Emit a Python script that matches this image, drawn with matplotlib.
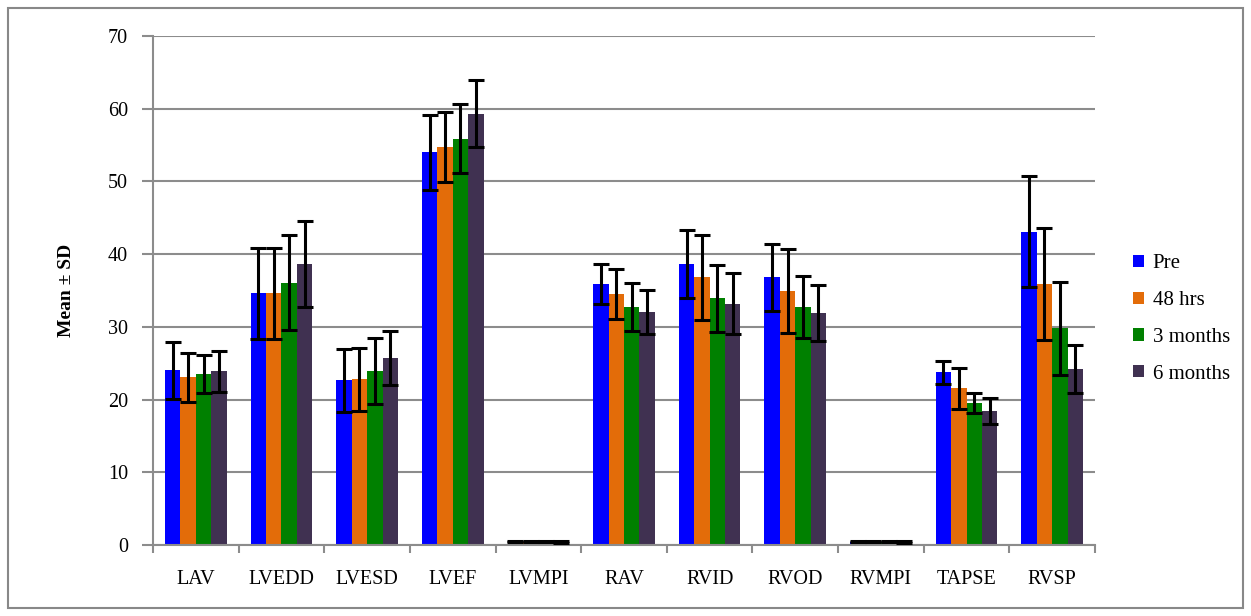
import numpy as np
import matplotlib.pyplot as plt

categories = ['LAV', 'LVEDD', 'LVESD', 'LVEF', 'LVMPI', 'RAV', 'RVID', 'RVOD', 'RVMPI', 'TAPSE', 'RVSP']
series = ['Pre', '48 hrs', '3 months', '6 months']

pre_mean = [24.0, 34.6, 22.65, 54.0, 0.45, 35.85, 38.6, 36.8, 0.45, 23.75, 43.1]
h48_mean = [23.05, 34.6, 22.8, 54.7, 0.45, 34.5, 36.8, 34.9, 0.45, 21.55, 35.85]
m3_mean = [23.5, 36.1, 23.9, 55.9, 0.43, 32.7, 33.9, 32.7, 0.43, 19.5, 29.8]
m6_mean = [23.9, 38.6, 25.7, 59.3, 0.42, 32.0, 33.2, 31.9, 0.42, 18.4, 24.15]

pre_sd = [3.9, 6.3, 4.35, 5.15, 0.08, 2.75, 4.7, 4.6, 0.08, 1.6, 7.6]
h48_sd = [3.35, 6.3, 4.35, 4.8, 0.08, 3.4, 5.85, 5.8, 0.08, 2.8, 7.7]
m3_sd = [2.6, 6.6, 4.5, 4.7, 0.08, 3.3, 4.65, 4.25, 0.08, 1.4, 6.4]
m6_sd = [2.8, 5.9, 3.75, 4.6, 0.08, 3.05, 4.15, 3.8, 0.08, 1.75, 3.3]

colors = ['#0000FF', '#E36C09', '#008000', '#403151']

plt.rcParams['font.family'] = ['Liberation Serif', 'DejaVu Serif']

fig = plt.figure(figsize=(12.51, 6.16), dpi=100)
ax = fig.add_axes([153 / 1251, 1 - 545 / 616, (1095 - 153) / 1251, (545 - 36) / 616])

# outer border of the chart
fig.patches.append(plt.Rectangle((8 / 1251, 8 / 616), 1235 / 1251, 600 / 616,
                                 transform=fig.transFigure, fill=False,
                                 edgecolor='#888888', linewidth=1.5))

x = np.arange(len(categories))
w = 0.18
means = [pre_mean, h48_mean, m3_mean, m6_mean]
sds = [pre_sd, h48_sd, m3_sd, m6_sd]
for i in range(4):
    ax.bar(x + (i - 1.5) * w, means[i], w, color=colors[i], label=series[i], zorder=2,
           yerr=sds[i], error_kw=dict(ecolor='black', elinewidth=2.2, capsize=5.5, capthick=2.2, zorder=3))

ax.set_xlim(-0.5, len(categories) - 0.5)
ax.set_ylim(0, 70)
ax.set_yticks(range(0, 71, 10))
ax.yaxis.grid(True, color='#8c8c8c', linewidth=1.5, zorder=0)
ax.set_axisbelow(True)

ax.set_xticks(x)
ax.set_xticklabels(categories, fontsize=14.5)
ax.set_xticks(np.arange(-0.5, len(categories), 1), minor=True)
ax.tick_params(axis='x', which='major', length=0, pad=18)
ax.tick_params(axis='x', which='minor', length=6, width=1.5, color='#8c8c8c')
ax.tick_params(axis='y', length=8, width=1.5, color='#8c8c8c', labelsize=14.5, pad=10)

for s in ['top', 'right']:
    ax.spines[s].set_visible(False)
for s in ['left', 'bottom']:
    ax.spines[s].set_color('#8c8c8c')
    ax.spines[s].set_linewidth(1.5)

ax.set_ylabel('Mean ± SD', fontsize=14, fontweight='bold', labelpad=24)

fig.legend(*ax.get_legend_handles_labels(), loc='center left',
           bbox_to_anchor=(1114 / 1251, 1 - 319 / 616), frameon=False, fontsize=15,
           handlelength=0.55, handleheight=0.55, handletextpad=0.4, labelspacing=0.85)

fig.savefig('out.png', dpi=100)
